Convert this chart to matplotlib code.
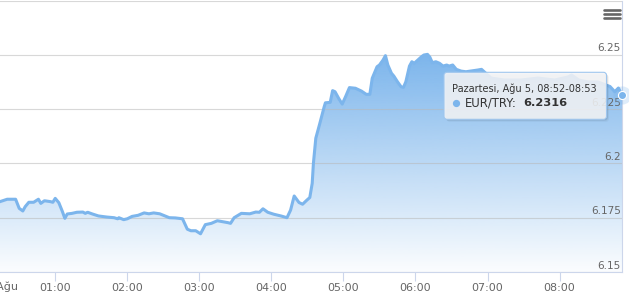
import matplotlib
matplotlib.use("Agg")
import matplotlib.pyplot as plt
import numpy as np
from matplotlib.colors import to_rgb
from matplotlib.patches import FancyBboxPatch

# EUR/TRY, Monday Aug 5 -- minutes after midnight and rate
minutes = [14, 20, 27, 30, 33, 35, 38, 42, 46, 48,
           51, 56, 58, 60, 63, 66, 68, 70, 74, 78,
           83, 85, 87, 91, 96, 103, 109, 112, 113, 117,
           120, 124, 129, 134, 138, 142, 147, 151, 155, 160,
           166, 170, 173, 177, 181, 185, 190, 195, 199, 204,
           206, 209, 215, 222, 227, 230, 233, 237, 242, 248,
           253, 256, 259, 263, 266, 269, 272, 274, 275, 277,
           280, 284, 285, 289, 291, 293, 296, 299, 302, 305,
           310, 315, 319, 322, 324, 328, 330, 333, 335, 337,
           340, 342, 345, 348, 350, 352, 355, 357, 359, 362,
           365, 367, 370, 372, 374, 377, 380, 383, 386, 388,
           391, 394, 398, 402, 406, 412, 415, 423, 434, 448,
           462, 476, 487, 490, 496, 504, 512, 522, 526, 529,
           532]
rates = [6.1824, 6.1835, 6.1835, 6.1793, 6.1781, 6.1801, 6.1821, 6.1821, 6.1835, 6.1816,
         6.1828, 6.1824, 6.1821, 6.1839, 6.1819, 6.1778, 6.1747, 6.1767, 6.1770, 6.1775,
         6.1776, 6.1770, 6.1775, 6.1767, 6.1758, 6.1753, 6.1750, 6.1745, 6.1750, 6.1741,
         6.1745, 6.1756, 6.1761, 6.1772, 6.1768, 6.1772, 6.1768, 6.1759, 6.1750, 6.1749,
         6.1745, 6.1697, 6.1690, 6.1690, 6.1676, 6.1718, 6.1724, 6.1736, 6.1732, 6.1727,
         6.1724, 6.1750, 6.1770, 6.1768, 6.1776, 6.1775, 6.1791, 6.1775, 6.1766, 6.1758,
         6.1750, 6.1785, 6.1850, 6.1820, 6.1812, 6.1828, 6.1843, 6.1908, 6.2000, 6.2116,
         6.2177, 6.2261, 6.2279, 6.2281, 6.2335, 6.2330, 6.2300, 6.2273, 6.2310, 6.2349,
         6.2346, 6.2333, 6.2318, 6.2318, 6.2392, 6.2445, 6.2453, 6.2476, 6.2496, 6.2453,
         6.2415, 6.2402, 6.2376, 6.2353, 6.2350, 6.2376, 6.2448, 6.2468, 6.2461, 6.2476,
         6.2491, 6.2499, 6.2502, 6.2489, 6.2464, 6.2468, 6.2461, 6.2448, 6.2453, 6.2448,
         6.2453, 6.2433, 6.2425, 6.2422, 6.2425, 6.2430, 6.2433, 6.2393, 6.2384, 6.2384,
         6.2393, 6.2384, 6.2398, 6.2407, 6.2384, 6.2375, 6.2375, 6.2354, 6.2330, 6.2347,
         6.2316]

hour_ticks = [60, 120, 180, 240, 300, 360, 420, 480]
hour_labels = ["01:00", "02:00", "03:00", "04:00", "05:00", "06:00", "07:00", "08:00"]
grid_values = [6.15, 6.175, 6.2, 6.225, 6.25, 6.275]
grid_labels = ["6.15", "6.175", "6.2", "6.225", "6.25"]
day_label = "5. Ağu"
tooltip_title = "Pazartesi, Ağu 5, 08:52-08:53"
series_name = "EUR/TRY"

LINE = "#7cb5ec"
AXIS = "#ccd6eb"
TEXT = "#666666"

W, H = 629, 305
fig = plt.figure(figsize=(W / 100, H / 100), dpi=100)
ax = fig.add_axes([0, 33 / H, 622 / W, 271.5 / H])

# gradient fill under the line, clipped to the area polygon
area = ax.fill_between(minutes, rates, 6.15, facecolor="none", edgecolor="none")
rgb = np.array(to_rgb(LINE))
grad = np.zeros((256, 1, 4))
grad[..., :3] = rgb
grad[..., 3] = np.linspace(1.0, 0.03, 256)[:, None]
im = ax.imshow(grad, extent=(minutes[0], minutes[-1], 6.15, max(rates)),
               aspect="auto", origin="upper", zorder=0.5)
im.set_clip_path(area.get_paths()[0], transform=ax.transData)

ax.plot(minutes, rates, color=LINE, lw=2.2, solid_joinstyle="round", zorder=2)

# hover marker on the last point
ax.scatter([minutes[-1]], [rates[-1]], s=170, color=LINE, alpha=0.25,
           linewidths=0, clip_on=False, zorder=3)
ax.scatter([minutes[-1]], [rates[-1]], s=34, color=LINE, edgecolors="white",
           linewidths=0.8, clip_on=False, zorder=4)

ax.set_xlim(minutes[0], minutes[-1])
ax.set_ylim(6.15, 6.275)
ax.set_yticks(grid_values)
ax.tick_params(axis="y", length=0, labelleft=False, labelright=False)
ax.set_xticks(hour_ticks, hour_labels)
ax.tick_params(axis="x", length=6.5, width=0.8, color=AXIS, labelcolor=TEXT,
               labelsize=8, pad=1.5)
ax.set_axisbelow("line")
ax.grid(axis="y", color="#b8b8b8", alpha=0.55, lw=0.8)

for side in ("left", "top"):
    ax.spines[side].set_visible(False)
for side in ("right", "bottom"):
    ax.spines[side].set_color(AXIS)
    ax.spines[side].set_linewidth(0.8)

for val, lbl in zip(grid_values, grid_labels):
    ax.annotate(lbl, xy=(1, val), xycoords=("axes fraction", "data"),
                xytext=(-0.8, 1.0), textcoords="offset points",
                ha="right", va="bottom", fontsize=7.6, color=TEXT, zorder=1.8)

# overlay in pixel coordinates for the chrome around the plot
ov = fig.add_axes([0, 0, 1, 1])
ov.set_xlim(0, W)
ov.set_ylim(H, 0)
ov.axis("off")
ov.patch.set_visible(False)

ov.text(18.5, 287, day_label, ha="right", va="center", fontsize=8, color=TEXT)

# export menu icon
for yy in (9.5, 13.8, 18.0):
    ov.plot([604, 620], [yy, yy], color=TEXT, lw=1.9, solid_capstyle="round")

# tooltip
bx, by, bw, bh = 444, 72.3, 162.5, 47
for off, a in ((2.5, 0.04), (1.5, 0.06), (0.8, 0.08)):
    ov.add_patch(FancyBboxPatch((bx + off, by + off), bw, bh,
                                boxstyle="round,pad=0,rounding_size=3",
                                facecolor="black", edgecolor="none", alpha=a))
ov.add_patch(FancyBboxPatch((bx, by), bw, bh, boxstyle="round,pad=0,rounding_size=3",
                            facecolor=(0.968, 0.972, 0.98, 0.86),
                            edgecolor="#9fc6ee", lw=0.8))
ov.text(451.5, 88.5, tooltip_title, ha="left", va="center", fontsize=7, color="#333333")
ov.plot([455.5], [102.7], "o", ms=4.2, color=LINE)
ov.text(464.5, 102.7, series_name + ":", ha="left", va="center", fontsize=8.4,
        color="#333333")
ov.text(523, 102.7, f"{rates[-1]:.4f}", ha="left", va="center", fontsize=8.2,
        fontweight="bold", color="#333333")

fig.savefig("out.png", dpi=100)
